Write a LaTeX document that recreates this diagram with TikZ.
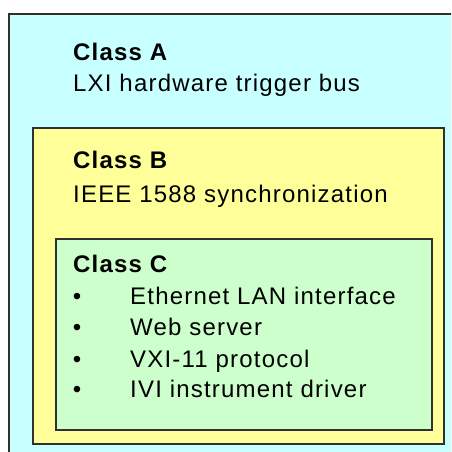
\documentclass[tikz,border=0pt]{standalone}
\usepackage{fontspec}
\setmainfont[LetterSpace=5]{Liberation Sans}
\usepackage{tikz}
\usetikzlibrary{positioning}

\definecolor{cyanbg}{HTML}{C8FFFF}
\definecolor{yellowbg}{HTML}{FFFF99}
\definecolor{greenbg}{HTML}{CCFFCC}
\definecolor{darkline}{HTML}{303030}

\begin{document}
\begin{tikzpicture}[x=1pt, y=-1pt,
    font=\fontsize{24}{29}\selectfont,
    box/.style={draw=darkline, line width=1.6pt, anchor=north west, inner sep=0pt},
    title/.style={anchor=base west, inner sep=0pt, font=\bfseries\fontsize{24}{29}\selectfont},
    line/.style={anchor=base west, inner sep=0pt},
    dot/.style={anchor=base, inner sep=0pt}]
    % Frame
    \useasboundingbox (0,0) rectangle (451,452);
    \clip (0,0) rectangle (451,452);
    \fill[white] (0,0) rectangle (451,452);

    % Boxes
    \node[box, fill=cyanbg, minimum width=460pt, minimum height=460pt] (boxA) at (8,13) {};
    \node[box, fill=yellowbg, minimum width=411pt, minimum height=316pt] (boxB) at (32,127) {};
    \node[box, fill=greenbg, minimum width=376pt, minimum height=191pt] (boxC) at (55,238) {};

    % Class A
    \node[title] (titleA) at (73,60) {Class A};
    \node[line] (textA) at (73,92) {LXI hardware trigger bus};

    % Class B
    \node[title] (titleB) at (73,168) {Class B};
    \node[line] (textB) at (73,202) {IEEE 1588 synchronization};

    % Class C
    \node[title] (titleC) at (73,272) {Class C};
    \node[dot] (dot1) at (77,304) {\textbullet};
    \node[line] (item1) at (130,304) {Ethernet LAN interface};
    \node[dot] (dot2) at (77,335) {\textbullet};
    \node[line] (item2) at (130,335) {Web server};
    \node[dot] (dot3) at (77,367) {\textbullet};
    \node[line] (item3) at (130,367) {VXI-11 protocol};
    \node[dot] (dot4) at (77,397) {\textbullet};
    \node[line] (item4) at (130,397) {IVI instrument driver};
\end{tikzpicture}
\end{document}
